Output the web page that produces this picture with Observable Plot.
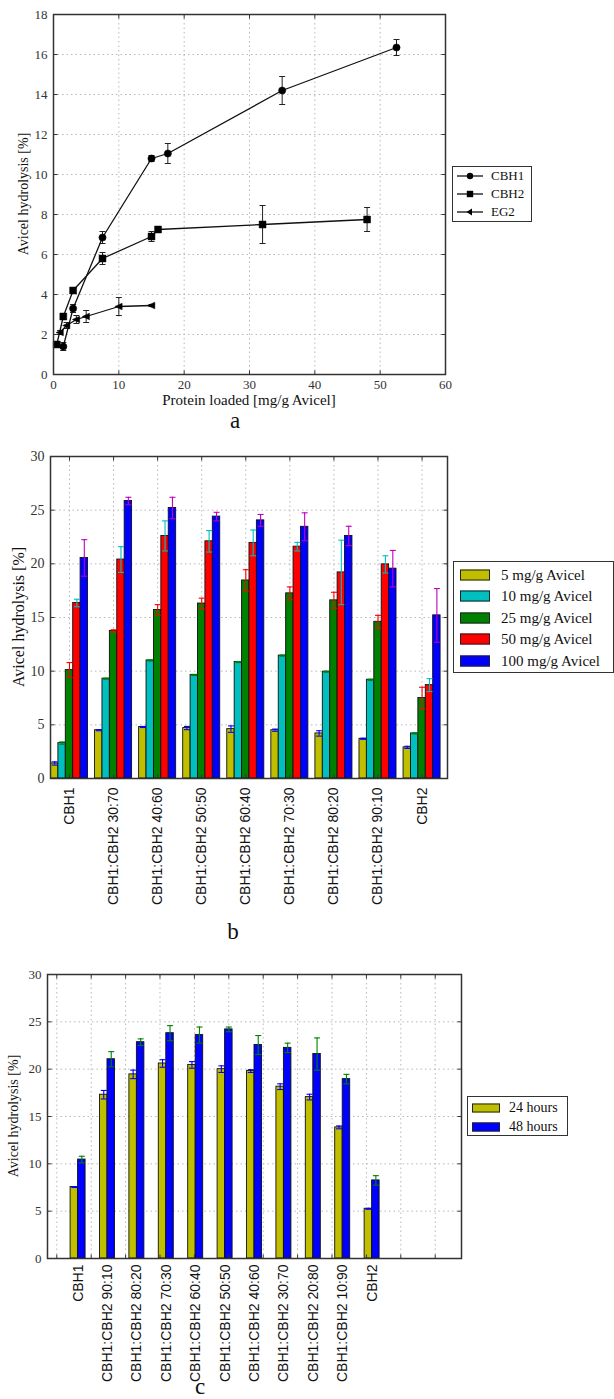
<!DOCTYPE html>
<html><head><meta charset="utf-8">
<script src="https://cdn.jsdelivr.net/npm/d3@7"></script>
<script src="https://cdn.jsdelivr.net/npm/@observablehq/plot@0.6"></script>
<style>
body{margin:0;background:#fff}
#root{position:relative;width:614px;height:1399px;overflow:hidden;font-family:"Liberation Serif",serif;color:#222;background:#fff}
.abs{position:absolute}
.plabel{position:absolute;font-size:23px;line-height:20px;width:40px;text-align:center;color:#111}
.title{position:absolute;text-align:center;white-space:nowrap;color:#111}
.legend{position:absolute;border:1.5px solid #333;background:#fff;box-sizing:border-box}
.legend .row{position:absolute;left:0;right:0;height:0}
.legend .txt{position:absolute;white-space:nowrap;transform:translateY(-50%);color:#111}
.legend .sw{position:absolute;border:1px solid #222;box-sizing:border-box;transform:translateY(-50%)}
</style></head><body><div id="root"></div>
<script>
// ---------- Panel a data ----------
const enzymesA = ["CBH1", "CBH2", "EG2"];
const cbh1Load = [1.5, 3, 7.5, 15, 17.5, 35, 52.5];
const cbh1Hyd  = [1.4, 3.3, 6.85, 10.8, 11.05, 14.2, 16.35];
const cbh1Err  = [0.2, 0.2, 0.3, 0.15, 0.5, 0.7, 0.4];
const cbh2Load = [0.5, 1.5, 3, 7.5, 15, 16, 32, 48];
const cbh2Hyd  = [1.5, 2.9, 4.2, 5.8, 6.9, 7.25, 7.5, 7.75];
const cbh2Err  = [0.1, 0.15, 0.1, 0.3, 0.25, 0.15, 0.95, 0.6];
const eg2Load  = [1, 2, 3.5, 5, 10, 15];
const eg2Hyd   = [2.1, 2.45, 2.75, 2.9, 3.4, 3.45];
const eg2Err   = [0.1, 0.15, 0.2, 0.3, 0.45, 0.05];
const xTicksA = [0, 10, 20, 30, 40, 50, 60];
const yTicksA = [0, 2, 4, 6, 8, 10, 12, 14, 16, 18];

// ---------- Panel b data ----------
const catsB = ["CBH1", "CBH1:CBH2 30:70", "CBH1:CBH2 40:60", "CBH1:CBH2 50:50", "CBH1:CBH2 60:40",
  "CBH1:CBH2 70:30", "CBH1:CBH2 80:20", "CBH1:CBH2 90:10", "CBH2"];
const seriesB = ["5 mg/g Avicel", "10 mg/g Avicel", "25 mg/g Avicel", "50 mg/g Avicel", "100 mg/g Avicel"];
const b5     = [1.4, 4.5, 4.8, 4.7, 4.6, 4.5, 4.2, 3.7, 2.9];
const b5err  = [0.15, 0.05, 0.05, 0.15, 0.3, 0.1, 0.25, 0.05, 0.1];
const b10    = [3.3, 9.3, 11.0, 9.65, 10.85, 11.45, 9.95, 9.2, 4.2];
const b10err = [0.1, 0.05, 0.05, 0.05, 0.05, 0.05, 0.05, 0.05, 0.05];
const b25    = [10.1, 13.75, 15.7, 16.3, 18.45, 17.25, 16.6, 14.6, 7.5];
const b25err = [0.7, 0.1, 0.5, 0.5, 1.0, 0.6, 0.75, 0.6, 1.0];
const b50    = [16.35, 20.4, 22.6, 22.1, 21.95, 21.6, 19.2, 19.95, 8.7];
const b50err = [0.35, 1.2, 1.4, 1.0, 1.2, 0.4, 3.0, 0.8, 0.6];
const b100   = [20.55, 25.85, 25.2, 24.4, 24.05, 23.45, 22.6, 19.55, 15.2];
const b100err= [1.7, 0.35, 1.0, 0.4, 0.55, 1.3, 0.9, 1.7, 2.5];
const yTicksBC = [0, 5, 10, 15, 20, 25, 30];

// ---------- Panel c data ----------
const catsC = ["CBH1", "CBH1:CBH2 90:10", "CBH1:CBH2 80:20", "CBH1:CBH2 70:30", "CBH1:CBH2 60:40",
  "CBH1:CBH2 50:50", "CBH1:CBH2 40:60", "CBH1:CBH2 30:70", "CBH1:CBH2 20:80", "CBH1:CBH2 10:90", "CBH2"];
const seriesC = ["24 hours", "48 hours"];
const c24    = [7.55, 17.3, 19.45, 20.6, 20.45, 20.0, 19.8, 18.15, 17.05, 13.85, 5.25];
const c24err = [0.05, 0.45, 0.45, 0.4, 0.35, 0.35, 0.15, 0.3, 0.3, 0.15, 0.05];
const c48    = [10.45, 21.05, 22.85, 23.8, 23.6, 24.2, 22.55, 22.25, 21.6, 18.95, 8.25];
const c48err = [0.35, 0.8, 0.35, 0.8, 0.85, 0.25, 1.0, 0.5, 1.7, 0.5, 0.5];

// ---------- styles ----------
const colorsB = ["#bfbf00", "#00bfbf", "#008000", "#ff0000", "#0000ff"];
const errColorsB = ["#0000ff", "#008000", "#ff0000", "#00bfbf", "#bf00bf"];
const colorsC = ["#bfbf00", "#0000ff"];
const errColorsC = ["#0000ff", "#008000"];
const gridStyle = {stroke: "#b8b8b8", strokeDasharray: "1.5,3", strokeOpacity: 1, strokeWidth: 1};
const frameColor = "#333";

// ---------- custom symbols ----------
const triLeft = {draw(ctx, size) { const r = Math.sqrt(size / Math.PI); ctx.moveTo(-r * 1.2, 0); ctx.lineTo(r, -r); ctx.lineTo(r, r); ctx.closePath(); }};
const capSym  = {draw(ctx, size) { const r = Math.sqrt(size / Math.PI); ctx.moveTo(-r, 0); ctx.lineTo(r, 0); }};
const tickUp = {draw(ctx) { ctx.moveTo(0, 0); ctx.lineTo(0, -4); }};
const tickDown = {draw(ctx) { ctx.moveTo(0, 0); ctx.lineTo(0, 4); }};
const tickRight = {draw(ctx) { ctx.moveTo(0, 0); ctx.lineTo(4, 0); }};
const tickLeft = {draw(ctx) { ctx.moveTo(0, 0); ctx.lineTo(-4, 0); }};

function innerTicks(xt, yt) {
  const o = {stroke: frameColor, fill: "none", strokeWidth: 1};
  return [
    Plot.dot(xt, {x: d => d, frameAnchor: "bottom", symbol: tickUp, ...o}),
    Plot.dot(xt, {x: d => d, frameAnchor: "top", symbol: tickDown, ...o}),
    Plot.dot(yt, {y: d => d, frameAnchor: "left", symbol: tickRight, ...o}),
    Plot.dot(yt, {y: d => d, frameAnchor: "right", symbol: tickLeft, ...o})
  ];
}
function errMarks(data, x, stroke, capR, sw) {
  return [
    Plot.ruleX(data, {x, y1: d => d.v - d.e, y2: d => d.v + d.e, stroke, strokeWidth: sw}),
    Plot.dot(data, {x, y: d => d.v + d.e, symbol: capSym, r: capR, stroke, fill: "none", strokeWidth: sw}),
    Plot.dot(data, {x, y: d => d.v - d.e, symbol: capSym, r: capR, stroke, fill: "none", strokeWidth: sw})
  ];
}

const root = document.getElementById("root");
function place(node, left, top) {
  const d = document.createElement("div");
  d.className = "abs"; d.style.left = left + "px"; d.style.top = top + "px";
  d.appendChild(node); root.appendChild(d); return d;
}
function addDiv(cls, html, css) {
  const d = document.createElement("div");
  d.className = cls; d.innerHTML = html; Object.assign(d.style, css); root.appendChild(d); return d;
}
function rotTitle(text, cx, cy, size) {
  const w = 260;
  addDiv("title", text, {left: (cx - w / 2) + "px", top: (cy - size / 2) + "px", width: w + "px",
    fontSize: size + "px", lineHeight: size + "px", transform: "rotate(-90deg)"});
}

// ---------- Panel a ----------
const rowsA = [
  ...cbh1Load.map((x, i) => ({enz: enzymesA[0], x, v: cbh1Hyd[i], e: cbh1Err[i]})),
  ...cbh2Load.map((x, i) => ({enz: enzymesA[1], x, v: cbh2Hyd[i], e: cbh2Err[i]})),
  ...eg2Load.map((x, i) => ({enz: enzymesA[2], x, v: eg2Hyd[i], e: eg2Err[i]}))
];
const plotA = Plot.plot({
  width: 614, height: 420,
  marginLeft: 53, marginRight: 169, marginTop: 14, marginBottom: 46,
  style: {fontFamily: "Liberation Serif, serif", fontSize: "13px", color: "#333", background: "transparent"},
  x: {domain: [0, 60]},
  y: {domain: [0, 18]},
  marks: [
    Plot.gridX(xTicksA, gridStyle),
    Plot.gridY(yTicksA, gridStyle),
    Plot.axisX(xTicksA, {tickSize: 0, tickPadding: 5, fontSize: 13, label: null}),
    Plot.axisY(yTicksA, {tickSize: 0, tickPadding: 6, fontSize: 13, label: null}),
    ...errMarks(rowsA, "x", "#222", 3, 1),
    Plot.line(rowsA, {x: "x", y: "v", z: "enz", stroke: "#111", strokeWidth: 1.3}),
    Plot.dot(rowsA.filter(d => d.enz === "CBH1"), {x: "x", y: "v", symbol: "circle", r: 3.6, fill: "#000", stroke: "#000", strokeWidth: 0.5}),
    Plot.dot(rowsA.filter(d => d.enz === "CBH2"), {x: "x", y: "v", symbol: "square", r: 3.9, fill: "#000", stroke: "#000", strokeWidth: 0.5}),
    Plot.dot(rowsA.filter(d => d.enz === "EG2"), {x: "x", y: "v", symbol: triLeft, r: 3.3, fill: "#000", stroke: "#000", strokeWidth: 0.5}),
    ...innerTicks(xTicksA, yTicksA),
    Plot.frame({stroke: frameColor, strokeWidth: 1.5})
  ]
});
place(plotA, 0, 0);
rotTitle("Avicel hydrolysis [%]", 24, 194, 14);
addDiv("title", "Protein loaded [mg/g Avicel]", {left: "99px", width: "300px", top: "393px", fontSize: "15px", lineHeight: "15px"});
addDiv("plabel", "a", {left: "215px", top: "411px"});

// legend a
{
  const lg = addDiv("legend", "", {left: "452px", top: "166px", width: "80px", height: "56px"});
  const syms = [
    '<circle cx="13" cy="6" r="3.2" fill="#000"/>',
    '<rect x="9.8" y="2.8" width="6.4" height="6.4" fill="#000"/>',
    '<path d="M9.5,6L15,2.6L15,9.4Z" fill="#000"/>'
  ];
  const ys = [10, 28, 46];
  enzymesA.forEach((name, k) => {
    const sv = `<svg width="27" height="12" style="position:absolute;left:4px;top:${ys[k] - 7}px"><line x1="0" x2="26" y1="6" y2="6" stroke="#111" stroke-width="1.3"/>${syms[k]}</svg>`;
    lg.insertAdjacentHTML("beforeend", sv + `<div class="txt" style="left:38px;top:${ys[k] - 1}px;font-size:13px">${name}</div>`);
  });
}

// ---------- Panel b ----------
const valsB = [b5, b10, b25, b50, b100];
const errsB = [b5err, b10err, b25err, b50err, b100err];
const rowsB = [];
seriesB.forEach((s, j) => catsB.forEach((c, i) => rowsB.push({i, j, v: valsB[j][i], e: errsB[j][i]})));
const bwB = 0.168;
const plotB = Plot.plot({
  width: 614, height: 480,
  marginLeft: 50, marginRight: 167, marginTop: 26, marginBottom: 132,
  style: {fontFamily: "Liberation Serif, serif", fontSize: "14px", color: "#333", background: "transparent"},
  x: {domain: [-0.431, 8.577]},
  y: {domain: [0, 30]},
  color: {type: "identity"},
  marks: [
    Plot.gridX(d3.range(catsB.length), gridStyle),
    Plot.gridY(yTicksBC, gridStyle),
    Plot.axisY(yTicksBC, {tickSize: 0, tickPadding: 6, fontSize: 14, label: null}),
    Plot.axisX(d3.range(catsB.length), {tickSize: 0, tickPadding: 9, tickRotate: -90, tickFormat: i => catsB[i],
      fontFamily: "Liberation Sans, sans-serif", fontSize: 14, fill: "#111", label: null}),
    Plot.rectY(rowsB, {x1: d => d.i + (d.j - 2.5) * bwB, x2: d => d.i + (d.j - 1.5) * bwB, y1: 0, y2: "v",
      fill: d => colorsB[d.j], stroke: "#111", strokeWidth: 0.9}),
    ...errMarks(rowsB, d => d.i + (d.j - 2) * bwB, d => errColorsB[d.j], 3, 1.1),
    ...innerTicks(d3.range(catsB.length), yTicksBC),
    Plot.frame({stroke: frameColor, strokeWidth: 1.5})
  ]
});
place(plotB, 0, 430);
rotTitle("Avicel hydrolysis [%]", 19, 617, 16);
addDiv("plabel", "b", {left: "213px", top: "922px"});

// legend b
{
  const lg = addDiv("legend", "", {left: "453px", top: "561px", width: "161px", height: "112px"});
  seriesB.forEach((name, k) => {
    const cy = 13 + k * 21.4;
    lg.insertAdjacentHTML("beforeend",
      `<div class="sw" style="left:6px;top:${cy}px;width:30px;height:11px;background:${colorsB[k]}"></div>` +
      `<div class="txt" style="left:47px;top:${cy}px;font-size:15px">${name}</div>`);
  });
}

// ---------- Panel c ----------
const valsC = [c24, c48];
const errsC = [c24err, c48err];
const rowsC = [];
seriesC.forEach((s, j) => catsC.forEach((c, i) => rowsC.push({i, j, v: valsC[j][i], e: errsC[j][i]})));
const bwC = 0.255;
const gridC = d3.range(12).map(k => -0.724 + 1.170 * k);
const plotC = Plot.plot({
  width: 614, height: 440,
  marginLeft: 47, marginRight: 153, marginTop: 24, marginBottom: 132,
  style: {fontFamily: "Liberation Serif, serif", fontSize: "13px", color: "#333", background: "transparent"},
  x: {domain: [-1.04, 13.04]},
  y: {domain: [0, 30]},
  color: {type: "identity"},
  marks: [
    Plot.gridX(gridC, gridStyle),
    Plot.gridY(yTicksBC, gridStyle),
    Plot.axisY(yTicksBC, {tickSize: 0, tickPadding: 6, fontSize: 13, label: null}),
    Plot.axisX(d3.range(catsC.length), {tickSize: 0, tickPadding: 6, tickRotate: -90, tickFormat: i => catsC[i],
      fontFamily: "Liberation Sans, sans-serif", fontSize: 14, fill: "#111", label: null}),
    Plot.rectY(rowsC, {x1: d => d.i + (d.j - 1) * bwC, x2: d => d.i + d.j * bwC, y1: 0, y2: "v",
      fill: d => colorsC[d.j], stroke: "#111", strokeWidth: 0.9}),
    ...errMarks(rowsC, d => d.i + (d.j - 0.5) * bwC, d => errColorsC[d.j], 3, 1.1),
    ...innerTicks(gridC, yTicksBC),
    Plot.frame({stroke: frameColor, strokeWidth: 1.5})
  ]
});
place(plotC, 0, 950);
rotTitle("Avicel hydrolysis [%]", 14, 1116, 14);
addDiv("plabel", "c", {left: "180px", top: "1377px"});

// legend c
{
  const lg = addDiv("legend", "", {left: "467px", top: "1096px", width: "101px", height: "40px"});
  seriesC.forEach((name, k) => {
    const cy = 11 + k * 18.7;
    lg.insertAdjacentHTML("beforeend",
      `<div class="sw" style="left:4px;top:${cy}px;width:28px;height:9px;background:${colorsC[k]}"></div>` +
      `<div class="txt" style="left:41px;top:${cy}px;font-size:14px">${name}</div>`);
  });
}
</script></body></html>
